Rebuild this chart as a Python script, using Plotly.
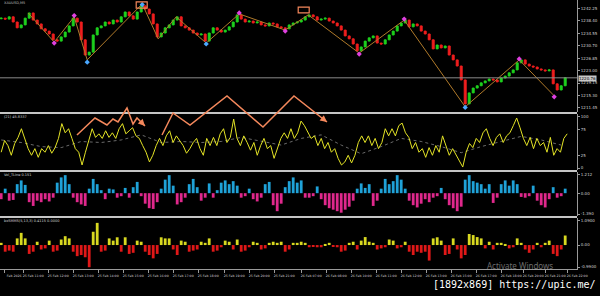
import plotly.graph_objects as go
from plotly.subplots import make_subplots
import numpy as np

# ---------------- data ----------------
close = [1239.2, 1238.9, 1239.6, 1238.0, 1236.2, 1237.1, 1239.2, 1240.8, 1238.6, 1237.4,
         1235.9, 1235.2, 1234.3, 1232.5, 1232.1, 1233.4, 1234.9, 1236.8, 1239.2, 1238.0,
         1232.5, 1227.8, 1228.7, 1234.0, 1236.2, 1236.8, 1238.0, 1237.4, 1238.6, 1238.0,
         1239.6, 1241.1, 1239.9, 1238.9, 1241.1, 1243.0, 1242.0, 1240.5, 1237.4, 1233.4,
         1234.6, 1236.2, 1237.1, 1238.6, 1239.6, 1236.8, 1236.2, 1235.5, 1234.6, 1234.0,
         1234.3, 1232.1, 1234.6, 1236.2, 1235.5, 1234.9, 1235.5, 1236.5, 1238.0, 1240.2,
         1238.9, 1238.0, 1238.3, 1237.7, 1238.0, 1237.1, 1236.8, 1237.7, 1237.4, 1236.5,
         1236.2, 1235.9, 1237.1, 1237.7, 1238.0, 1238.6, 1239.6, 1240.2, 1239.6, 1238.6,
         1238.9, 1239.2, 1238.3, 1237.7, 1236.8, 1235.5, 1233.7, 1232.8, 1231.2, 1229.1,
         1230.3, 1232.1, 1233.1, 1233.7, 1231.5, 1231.2, 1232.5, 1234.0, 1235.2, 1236.8,
         1237.7, 1238.6, 1236.5, 1237.4, 1236.8, 1235.2, 1234.3, 1232.5, 1229.7, 1230.9,
         1230.0, 1230.6, 1227.8, 1226.3, 1224.4, 1220.1, 1212.7, 1216.1, 1217.6, 1218.3,
         1219.2, 1219.8, 1220.4, 1220.1, 1219.5, 1220.7, 1221.3, 1222.3, 1223.2, 1225.4,
         1226.3, 1225.0, 1224.4, 1224.1, 1223.5, 1223.2, 1222.9, 1223.2, 1218.9, 1217.0,
         1218.3, 1220.8]
first_open = 1239.0
last_price = 1220.76

zz_bar = [6.75, 13.25, 18.25, 21.5, 35.25, 39.25, 43.75, 51.25, 59.5, 71, 76.75,
          89.5, 100.75, 116, 129.5, 138.25]
zz_price = [1240.8, 1231.8, 1239.6, 1226.3, 1243.6, 1232.8, 1239.6, 1231.5, 1240.5,
            1235.5, 1240.2, 1228.4, 1238.6, 1211.8, 1226.3, 1215.2]
mag_bar = [13.25, 18.25, 59.5, 71, 89.5, 100.75, 129.5, 138.25]
mag_price = [1231.5, 1240.0, 1240.8, 1235.2, 1228.1, 1238.9, 1226.6, 1214.9]
blue_bar = [21.5, 35.25, 51.25, 116]
blue_price = [1225.6, 1243.4, 1231.2, 1211.6]

osc = [31, 54, 44, 25, 48, 60, 77, 58, 38, 25, 38, 21, 38, 31, 44, 29, 40, 58, 87, 69,
       77, 58, 38, 31, 6, 31, 54, 77, 60, 67, 58, 73, 60, 69, 58, 77, 87, 67, 73, 79,
       63, 58, 44, 31, 12, 25, 44, 58, 44, 63, 73, 50, 63, 54, 44, 29, 38, 50,
       58, 38, 25, 58, 44, 60, 44, 67, 77, 50, 60, 96, 58, 44, 63, 50, 35, 50, 25, 44,
       58, 38, 44, 19, 38, 58, 69, 58, 77, 58, 69, 92, 83, 69, 58, 63, 44, 58, 38, 50,
       31, 38, 19, 6, 12, 25, 10, 25, 50, 63, 50, 63, 44, 58, 38, 50, 77, 63, 77, 63,
       83, 88, 69, 60, 38, 50, 31, 38, 21, 40, 25, 44, 31, 63, 44, 25, 38, 25, 15, 2,
       31, 48, 40, 58, 50, 69, 77, 58, 44, 60, 67, 50, 63, 69, 83, 98, 79, 58, 44, 60,
       38, 58, 44, 50, 31, 60, 25, 38, 31, 58, 67]
osc_signal = [55, 50, 42, 40, 52, 50, 55, 65, 50, 52, 50, 52, 60, 52, 45, 58, 65, 45,
              28, 42, 58, 52, 42, 30, 42, 52, 62, 55, 45]

vol = [-0.4, 0.3, -0.5, -0.45, 0.6, 0.85, 0.55, -0.6, -0.85, -0.5,
       -0.6, -0.4, -0.55, -0.3, 0.7, 1.05, 1.2, 0.6, -0.3, -0.6,
       -0.75, -0.85, 0.3, 0.95, 0.6, 0.2, -0.4, 0.3, 0.25, -0.3,
       -0.2, 0.35, -0.3, 0.4, 0.75, -0.2, -0.7, -1.0, -1.05, -0.6,
       0.3, 0.9, 1.2, 0.5, -0.75, -0.6, -0.3, 0.6, 0.95, 0.4,
       -0.5, -0.3, 0.65, -0.3, 0.2, 0.7, 0.85, 0.6, 0.8, 0.5,
       -0.3, -0.2, 0.3, -0.4, -0.55, -0.3, 0.6, 0.75, -0.8, -1.2,
       -0.7, 0.4, 0.8, 1.05, 0.7, 0.85, -0.3, -0.3, -0.2, 0.45,
       -0.4, -0.8, -1.0, -1.1, -1.2, -1.3, -1.1, -0.9, -0.5, 0.3,
       0.65, 0.35, 0.6, -0.85, -0.5, 0.3, 0.95, 0.6, 0.8, 1.2,
       0.9, 0.3, -0.5, -0.8, -0.95, -0.7, -0.4, -0.6, -0.3, -0.2,
       0.35, -0.4, -0.8, -1.0, -1.2, -0.9, 0.9, 1.2, 0.8, 0.7,
       0.6, 0.3, 0.6, -0.65, -0.3, 0.6, 0.85, 0.5, 0.85, 0.6,
       -0.25, -0.3, -0.2, 0.5, -0.5, -0.8, -0.95, -0.4, 0.4, -0.3,
       -0.2, 0.3]

bx = [0.1, -0.3, -0.25, -0.3, 0.3, 0.55, 0.3, -0.4, -0.3, 0.15,
      -0.2, -0.15, 0.2, -0.3, -0.25, 0.25, 0.4, 0.3, -0.3, -0.5,
      -0.45, -0.55, -1.0, 0.6, 1.0, -0.3, -0.25, 0.3, 0.2, 0.35,
      -0.3, 0.35, -0.4, -0.35, 0.2, 0.15, -0.3, -0.45, -0.6, -0.4,
      0.35, 0.3, 0.3, -0.2, -0.45, 0.2, 0.15, -0.3, -0.25, -0.2,
      0.15, 0.1, 0.3, -0.3, -0.25, -0.1, 0.2, 0.15, -0.2, 0.25,
      -0.3, -0.25, -0.1, 0.15, 0.1, -0.2, -0.15, 0.1, 0.15, 0.1,
      0.15, -0.3, -0.2, 0.1, 0.1, 0.15, 0.1, -0.1, -0.05, -0.1,
      -0.1, 0.05, 0.1, -0.05, -0.1, -0.3, -0.25, 0.1, 0.15, -0.2,
      0.2, 0.36, 0.15, 0.1, -0.2, -0.15, -0.1, 0.25, 0.2, -0.15,
      -0.1, 0.15, -0.3, -0.45, -0.3, -0.35, -0.3, -0.7, 0.3, 0.35,
      0.2, -0.45, -0.4, 0.3, -0.2, -0.6, -0.45, 0.5, 0.45, 0.36,
      0.3, -0.15, 0.15, -0.2, 0.1, 0.1, 0.05, -0.15, -0.1, 0.3,
      0.1, -0.2, -0.35, -0.2, 0.1, -0.1, 0.1, 0.2, -0.4, -0.5,
      -0.2, 0.43]

price_ticks = [1242.25, 1238.40, 1234.55, 1230.70, 1226.85, 1223.00, 1219.15, 1215.30, 1211.45]
osc_ticks = [100, 75, 25, 0]
vol_ticks = [1.212, 0.0, -1.390]
vol_tick_text = ["1.212", "0.00", "-1.390"]
bx_ticks = [1.09, 0.0, -0.99]
bx_tick_text = ["1.0900", "0.00", "-0.9900"]

time_bar = [0.75, 5.5, 11.75, 18, 24.25, 30.5, 36.75, 43, 49.25, 55.75, 62, 68.25,
            75, 81.25, 87.5, 93.75, 100, 106.25, 112.5, 118.75, 125, 130.5, 136, 141.5]
time_text = ["Feb 2026", "25 Feb 11:00", "25 Feb 12:00", "25 Feb 13:00", "25 Feb 14:00",
             "25 Feb 15:00", "25 Feb 16:00", "25 Feb 17:00", "25 Feb 18:00", "25 Feb 19:00",
             "25 Feb 20:00", "25 Feb 21:00", "26 Feb 07:00", "26 Feb 08:00", "26 Feb 10:00",
             "26 Feb 11:00", "26 Feb 12:00", "26 Feb 13:00", "26 Feb 15:00", "26 Feb 17:00",
             "26 Feb 18:00", "26 Feb 20:00", "26 Feb 21:00", "26 Feb 22:00"]

# ---------------- derived ----------------
bars = list(range(len(close)))
opens = [first_open] + close[:-1]
highs = [max(o, c) for o, c in zip(opens, close)]
lows = [min(o, c) for o, c in zip(opens, close)]
osc_x = np.linspace(0, 141.5, len(osc))
sig_x = np.linspace(0, 140, len(osc_signal))

GREEN = "#1ed21e"
RED = "#f01e1e"
BG = "#000000"
TXT = "#d0d0d0"
ORANGE = "#f4885c"

W_PLOT, H_PLOT = 577, 269


def pp(x, y):
    return x / W_PLOT, (H_PLOT - y) / H_PLOT


fig = make_subplots(rows=4, cols=1, shared_xaxes=True)

fig.add_trace(go.Candlestick(
    x=bars, open=opens, high=highs, low=lows, close=close,
    increasing=dict(line=dict(color=GREEN, width=1), fillcolor=GREEN),
    decreasing=dict(line=dict(color=RED, width=1), fillcolor=RED),
    whiskerwidth=0, showlegend=False, hoverinfo="skip"), row=1, col=1)
fig.add_trace(go.Scatter(x=zz_bar, y=zz_price, mode="lines",
                         line=dict(color="#b07a2a", width=1), showlegend=False,
                         hoverinfo="skip"), row=1, col=1)
fig.add_trace(go.Scatter(x=mag_bar, y=mag_price, mode="markers",
                         marker=dict(symbol="diamond", size=4, color="#e040e0"),
                         showlegend=False, hoverinfo="skip"), row=1, col=1)
fig.add_trace(go.Scatter(x=blue_bar, y=blue_price, mode="markers",
                         marker=dict(symbol="diamond", size=4, color="#4aa8ff"),
                         showlegend=False, hoverinfo="skip"), row=1, col=1)

fig.add_trace(go.Scatter(x=sig_x, y=osc_signal, mode="lines",
                         line=dict(color="#6a6a6a", width=1, dash="dot"),
                         showlegend=False, hoverinfo="skip"), row=2, col=1)
fig.add_trace(go.Scatter(x=osc_x, y=osc, mode="lines",
                         line=dict(color="#e4e426", width=1),
                         showlegend=False, hoverinfo="skip"), row=2, col=1)

fig.add_trace(go.Bar(x=bars, y=vol,
                     marker=dict(color=["#1fa2d8" if v >= 0 else "#e0288c" for v in vol],
                                 line=dict(width=0)),
                     showlegend=False, hoverinfo="skip"), row=3, col=1)
fig.add_trace(go.Bar(x=bars, y=bx,
                     marker=dict(color=["#d8d820" if v >= 0 else "#e01818" for v in bx],
                                 line=dict(width=0)),
                     showlegend=False, hoverinfo="skip"), row=4, col=1)

# ---------------- axes ----------------
doms = [(112, 0), (170, 114), (216, 172), (269, 218)]
for i, (yb, yt) in enumerate(doms):
    fig.layout[f"yaxis{'' if i == 0 else i + 1}"].domain = [
        (H_PLOT - yb) / H_PLOT, (H_PLOT - yt) / H_PLOT]

yax_common = dict(side="right", showgrid=False, zeroline=False, showline=True,
                  linecolor="#9a9a9a", linewidth=1, ticks="outside", ticklen=2,
                  tickcolor="#9a9a9a", tickfont=dict(size=4, color=TXT, family="DejaVu Sans"),
                  fixedrange=True)
fig.update_yaxes(**yax_common)
fig.update_yaxes(range=[1210.2, 1244.8], tickvals=price_ticks,
                 ticktext=[f"{v:.2f}" for v in price_ticks], row=1, col=1)
fig.update_yaxes(range=[-3.8, 105.8], tickvals=osc_ticks,
                 ticktext=[str(v) for v in osc_ticks], row=2, col=1)
fig.update_yaxes(range=[-1.52, 1.41], tickvals=vol_ticks, ticktext=vol_tick_text, row=3, col=1)
fig.update_yaxes(range=[-1.08, 1.22], tickvals=bx_ticks, ticktext=bx_tick_text, row=4, col=1)

fig.update_xaxes(range=[-0.3, 143.95], showgrid=False, zeroline=False,
                 rangeslider_visible=False, showticklabels=False, ticks="")
fig.update_xaxes(row=4, col=1, showticklabels=True, tickvals=time_bar, ticktext=time_text,
                 ticks="outside", ticklen=3, tickcolor="#9a9a9a", showline=True,
                 linecolor="#9a9a9a", ticklabelshift=10, tickangle=0,
                 tickfont=dict(size=3.2, color=TXT, family="DejaVu Sans"))

fig.update_layout(
    width=600, height=296, margin=dict(l=0, r=23, t=0, b=27),
    paper_bgcolor=BG, plot_bgcolor=BG, bargap=0.3, showlegend=False,
)

shapes = []
# panel separators
for y in (113, 171, 217):
    x0, y0 = pp(0, y)
    shapes.append(dict(type="line", xref="paper", yref="paper", x0=0, x1=1, y0=y0, y1=y0,
                       line=dict(color="#c4c4c4", width=2)))
# current price line
shapes.append(dict(type="line", xref="paper", yref="y", x0=0, x1=1, y0=last_price,
                   y1=last_price, line=dict(color="#8a8a8a", width=1)))
# hand-drawn orange boxes on price panel
for bx0, bx1, by0, by1 in [(33.75, 36.5, 1242.3, 1244.2), (74.25, 77.0, 1240.8, 1242.6)]:
    shapes.append(dict(type="rect", xref="x", yref="y", x0=bx0, x1=bx1, y0=by0, y1=by1,
                       line=dict(color=ORANGE, width=1.2)))
# hand-drawn orange zigzag arrows
poly1 = [(77, 135), (95, 118), (107, 125), (113, 119), (118, 122), (127, 108),
         (133, 124), (137, 118), (145, 126)]
poly2 = [(162, 135), (173, 113), (190, 125), (227, 96), (263, 127), (294, 96), (327, 122)]
for poly in (poly1, poly2):
    pts = [pp(x, y) for x, y in poly]
    path = "M " + " L ".join(f"{a:.4f},{b:.4f}" for a, b in pts)
    shapes.append(dict(type="path", xref="paper", yref="paper", path=path,
                       line=dict(color=ORANGE, width=1.5)))
fig.update_layout(shapes=shapes)

ann = []
for (hx, hy), (tx, ty) in [((145, 126), (137, 118)), ((327, 122), (294, 96))]:
    ax_, ay_ = pp(hx, hy)
    dx, dy = tx - hx, ty - hy
    n = (dx * dx + dy * dy) ** 0.5
    ann.append(dict(x=ax_, y=ay_, xref="paper", yref="paper", ax=dx / n * 8, ay=dy / n * 8,
                    showarrow=True, arrowhead=2, arrowsize=0.9, arrowwidth=1.5,
                    arrowcolor=ORANGE, text=""))


def txt(x, y, s, size=4, color=TXT, anchor="left", family="DejaVu Sans", **kw):
    a, b = pp(x, y)
    d = dict(x=a, y=b, xref="paper", yref="paper", text=s, showarrow=False,
             xanchor=anchor, yanchor="middle",
             font=dict(size=size, color=color, family=family))
    d.update(kw)
    ann.append(d)


txt(2, 3, "XAUUSD,M5", size=3.5, color="#bdbdbd")
txt(2, 116.5, "(21) 45.8337", size=3.5)
txt(2, 174.5, "Vol_TLine 0.151", size=3.5)
txt(2, 220.5, "bxSMMS(5,13,3) 0.4115 0.0000", size=3.5)
# current price label
txt(578, 78, "1220.76", size=4, color="#000000", bgcolor="#c8c8c8", borderpad=0)
txt(485, 265, "Activate Windows", size=8, color="#6c6c6c", family="Noto Sans")
txt(598, 284, "[1892x869] https://upic.me/", size=10, color="#ffffff",
    anchor="right", family="DejaVu Sans Mono")
fig.update_layout(annotations=ann)

fig.write_html("out.html")
